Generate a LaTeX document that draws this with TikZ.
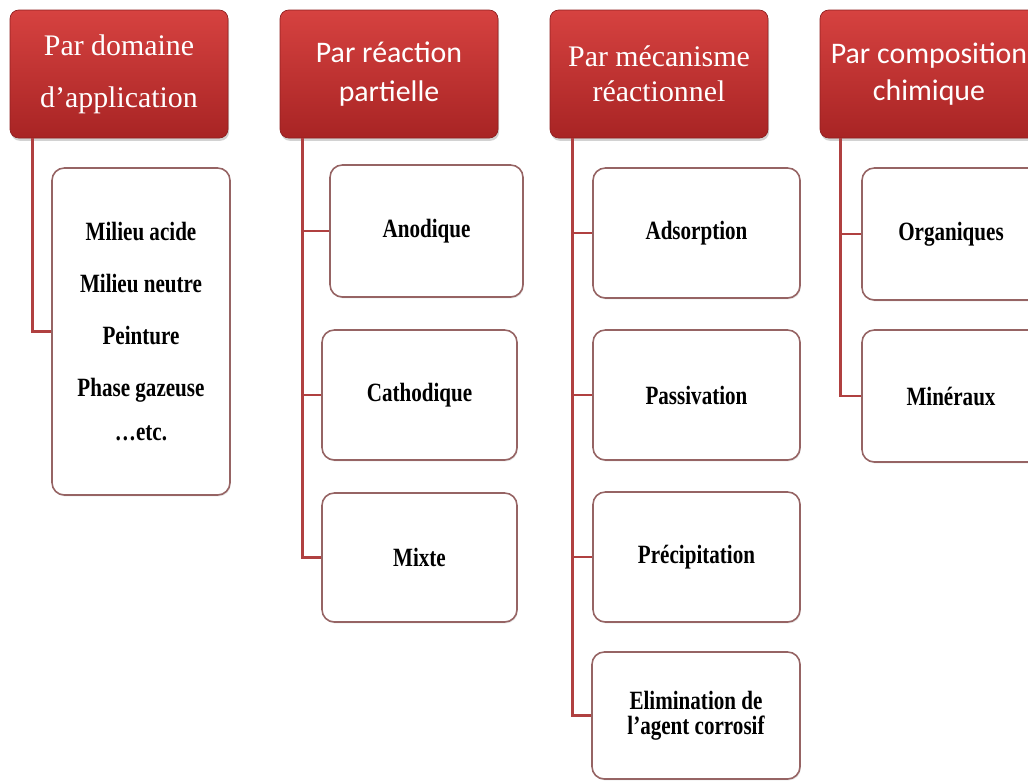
\documentclass[tikz,border=0pt]{standalone}
\usepackage{fontspec}
\setmainfont{Liberation Serif}
\newfontfamily\hdSans{Carlito}
\newfontfamily\chFont[FakeStretch=0.8]{Liberation Serif}
\usepackage{tikz}
\usetikzlibrary{positioning, calc, shadows}
\definecolor{hdTop}{RGB}{214,66,64}
\definecolor{hdBot}{RGB}{168,36,36}
\definecolor{treeRed}{RGB}{176,64,64}
\definecolor{chEdge}{RGB}{150,100,100}
\tikzset{
    hdBox/.style={rectangle, rounded corners=5pt, top color=hdTop, bottom color=hdBot, draw=hdBot!85!black,
        minimum width=218*0.02cm, minimum height=128*0.02cm, text=white, align=center, inner sep=1pt,
        drop shadow={shadow xshift=0.6pt, shadow yshift=-1.6pt, opacity=0.35}},
    chBox/.style={rectangle, rounded corners=7pt, draw=chEdge, line width=0.9pt, fill=white, align=center,
        font=\chFont\bfseries\fontsize{15}{14}\selectfont,
        drop shadow={shadow xshift=0.5pt, shadow yshift=-0.8pt, opacity=0.2, fill=black!50}},
    treeLine/.style={draw=treeRed, line width=1.5pt}
}
\begin{document}
\begin{tikzpicture}[x=0.02cm, y=-0.02cm]
        \clip (0,0) rectangle (1028,782);
        \fill[white] (0,0) rectangle (1028,782);

        % 1. Header boxes
        \node[hdBox, font=\rmfamily\fontsize{17}{29.5}\selectfont] (hdDomaine) at (119,74) {Par domaine\\d’application};
        \node[hdBox, font=\hdSans\fontsize{17}{22}\selectfont] (hdReaction) at (389,74) {Par réaction\\partielle};
        \node[hdBox, font=\rmfamily\fontsize{17}{20}\selectfont] (hdMecanisme) at (659,74) {Par mécanisme\\réactionnel};
        \node[hdBox, font=\hdSans\fontsize{17}{21}\selectfont] (hdCompo) at (929,74) {Par composition\\chimique};

        % 2. Tree connectors (drawn first so the boxes sit on top)
        \coordinate (trDomaine) at ($(hdDomaine.south west)+(23,0)$);
        \coordinate (trReaction) at ($(hdReaction.south west)+(23,0)$);
        \coordinate (trMecanisme) at ($(hdMecanisme.south west)+(23,0)$);
        \coordinate (trCompo) at ($(hdCompo.south west)+(21,0)$);

        % 3. Child boxes
        \node[chBox, minimum width=178*0.02cm, minimum height=327*0.02cm] (chMilieu) at (141,331.5)
            {Milieu acide\\[15.5pt]Milieu neutre\\[15.5pt]Peinture\\[15.5pt]Phase gazeuse\\[11pt]…etc.};

        \node[chBox, minimum width=193*0.02cm, minimum height=132*0.02cm] (chAnod) at (426.5,231) {Anodique};
        \node[chBox, minimum width=195*0.02cm, minimum height=130*0.02cm] (chCath) at (419.5,395) {Cathodique};
        \node[chBox, minimum width=195*0.02cm, minimum height=129*0.02cm] (chMixte) at (419.5,557.5) {Mixte};

        \node[chBox, minimum width=207*0.02cm, minimum height=130*0.02cm] (chAds) at (696.5,233) {Adsorption};
        \node[chBox, minimum width=207*0.02cm, minimum height=130*0.02cm] (chPass) at (696.5,395) {Passivation};
        \node[chBox, minimum width=207*0.02cm, minimum height=130*0.02cm] (chPrec) at (696.5,557) {Précipitation};
        \node[chBox, minimum width=208*0.02cm, minimum height=127*0.02cm] (chElim) at (696,715.5) {Elimination de\\l’agent corrosif};

        \node[chBox, minimum width=178*0.02cm, minimum height=132*0.02cm] (chOrg) at (951,234) {Organiques};
        \node[chBox, minimum width=178*0.02cm, minimum height=132*0.02cm] (chMin) at (951,396) {Minéraux};

        % 4. Branches from each header
        \draw[treeLine] (trDomaine) |- (chMilieu.west);
        \foreach \c in {chAnod,chCath,chMixte} { \draw[treeLine] (trReaction) |- (\c.west); }
        \foreach \c in {chAds,chPass,chPrec,chElim} { \draw[treeLine] (trMecanisme) |- (\c.west); }
        \foreach \c in {chOrg,chMin} { \draw[treeLine] (trCompo) |- (\c.west); }

    \end{tikzpicture}
\end{document}
